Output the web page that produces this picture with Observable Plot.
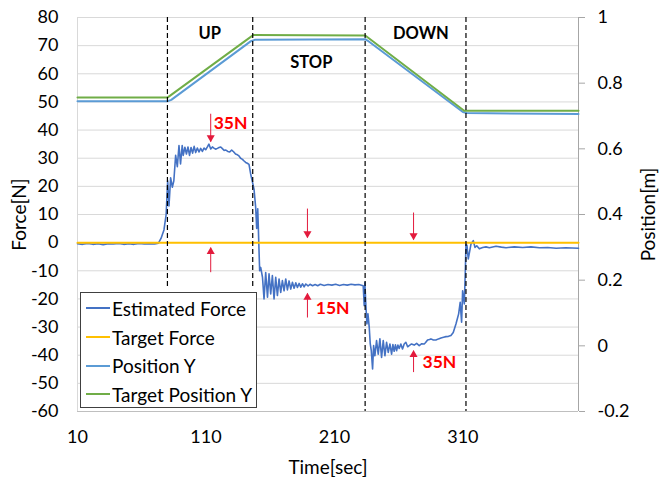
<!DOCTYPE html>
<html><head><meta charset="utf-8">
<script src="https://cdn.jsdelivr.net/npm/d3@7"></script>
<script src="https://cdn.jsdelivr.net/npm/@observablehq/plot@0.6"></script>
<style>
html,body{margin:0;padding:0;background:#fff;}
#wrap{position:relative;width:665px;height:477px;font-family:Lato,sans-serif;}
#legend{position:absolute;left:80px;top:292px;width:177px;height:116px;border:1px solid #404040;background:#fff;box-sizing:border-box;padding-top:1px;}
.row{position:relative;height:28.7px;display:flex;align-items:center;font-size:19px;color:#000;white-space:nowrap;}
.sw{display:inline-block;width:24px;height:2px;margin-left:5px;margin-right:2px;}
</style></head><body><div id="wrap"></div>
<script>
// ---- data ----
const timeTicks = [10, 110, 210, 310];
const forceTicks = [-60, -50, -40, -30, -20, -10, 0, 10, 20, 30, 40, 50, 60, 70, 80];
const positionTicks = [-0.2, 0, 0.2, 0.4, 0.6, 0.8, 1];
const seriesNames = ["Estimated Force", "Target Force", "Position Y", "Target Position Y"];
const seriesColors = ["#4472C4", "#FFC000", "#5B9BD5", "#70AD47"];

// Estimated force [time, N]
const estimatedForce = [
[10,-0.4],[14,-0.6],[18,-0.3],[22,-0.6],[26,-0.4],[30,-0.7],[34,-0.4],[38,-0.5],[42,-0.3],[46,-0.6],
[50,-0.4],[54,-0.6],[58,-0.3],[62,-0.5],[66,-0.4],[70,-0.5],[73,-0.2],[75,1.5],[77.3,4.5],[79,10],
[80.2,22],[81.2,13],[82.5,23],[83.8,19.7],[85,22],[86.4,31],[87.7,27],[89,34.5],[90.2,28],[91.5,34.5],
[92.3,31],[93.6,33.9],[94.8,31.5],[96,34],[97.2,31],[98.4,33.8],[99.6,31.8],[100.8,34.2],[102,32],[103.3,33.6],
[104.6,32.2],[105.9,33.5],[107.2,32.4],[108.5,33.6],[109.8,33],[111.1,34],[112.3,35],[113.7,33.3],[115,34],[116.2,33.6],
[117.5,33.2],[118.9,33.5],[120.2,33.8],[121.5,34],[122.8,33.4],[124,32.8],[125.5,32.9],[127,32.4],[128.5,32.2],[130,32.9],
[131.5,32.3],[133,31.5],[134.5,31.2],[135.7,30.8],[137,30],[138.4,29.6],[139.7,29],[140.9,28.5],[142.2,28.2],[143.5,27.8],
[144.8,24.4],[146.2,21.5],[147.4,19],[148.7,12.5],[149.5,5],[150.3,12],[150.8,4.9],[151.3,-2.8],[151.8,-10],[152.6,-8.8],
[154,-12.3],[155.2,-20],[156.5,-10.6],[157.9,-19.4],[159.1,-11.1],[160.4,-18.2],[161.7,-11.7],[163,-20],[164.3,-12.3],[165.6,-18.8],
[166.9,-12.9],[168.2,-17.7],[169.5,-13.5],[170.8,-17.1],[172.1,-12.9],[173.4,-16.8],[174.7,-13.6],[176,-16.5],[177.3,-14.1],[178.6,-16.2],
[179.9,-14.3],[181.2,-15.9],[182.5,-14.5],[183.8,-15.8],[185.1,-14.6],[186.4,-15.7],[187.7,-14.7],[189.5,-15.4],[191,-14.8],[193,-15.3],
[195,-14.9],[197,-15.3],[199,-14.8],[202,-15.2],[205,-14.9],[208,-15.1],[211,-14.8],[214,-15.2],[217,-14.9],[220,-15.1],
[223,-14.8],[226,-15],[229,-14.9],[232.4,-15.3],[233.2,-22.4],[233.7,-14.1],[234.5,-22.4],[235.3,-28.9],[236.1,-25.3],[237.1,-30.1],
[237.9,-36],[238.7,-38.4],[239.7,-44.9],[240.5,-36.6],[241.5,-40.2],[242.8,-34.8],[244.1,-39.6],[245.4,-34.2],[246.7,-40.8],[248,-34.8],
[249.3,-40.2],[250.6,-35.4],[251.9,-39],[253.2,-36],[254.5,-39.6],[255.5,-36.2],[256.5,-38.6],[257.5,-36.3],[258.4,-38.4],[259.4,-36.4],
[260.4,-37.6],[261.7,-36],[263,-37.8],[264.3,-36],[265.6,-35.4],[267,-37],[268.2,-36.6],[270,-36],[272.1,-36.4],[274,-35.8],
[276,-36.6],[278,-35.9],[279.9,-36],[281,-35.5],[282.5,-34.6],[284,-34.4],[285.1,-34.2],[287,-34.6],[289,-34.6],[291,-34.2],
[292.9,-33.9],[295,-33.6],[296.8,-33.4],[298.8,-33.3],[300.7,-33],[302.5,-31.9],[304.6,-28.9],[306.7,-25.3],[307.9,-21.2],[309,-28.3],
[309.8,-17.1],[311.1,-21.8],[311.9,-10],[312.4,-0.5],[313.2,-1],[314.2,-5.8],[316.3,-0.5],[318.1,0.7],[319.4,-1.7],[320.8,-1.1],
[322.8,-2.2],[325.4,-1.7],[328,-1.5],[330.6,-1.8],[335.8,-1.3],[340,-1.6],[343.6,-1.8],[350,-1.5],[356.6,-1.7],[363,-1.5],
[369.6,-1.8],[376,-1.7],[382.6,-2],[390,-1.8],[400,-2]
];
const targetForceTime = [10, 400];
const targetForceValue = [0, 0];
// Position [time, m]
const positionY = [[10,0.745],[80,0.745],[83,0.749],[145,0.928],[148,0.932],[234,0.934],[236,0.929],[310,0.712],[313,0.709],[400,0.706]];
const targetPositionY = [[10,0.756],[80,0.756],[147,0.947],[234,0.945],[311,0.716],[400,0.716]];

// annotations
const phaseNames = ["UP", "STOP", "DOWN"];
const phaseTime = [113, 192, 277.3];
const phaseForce = [74.3, 64.1, 74.2];
const boundaryTime = [80, 146.4, 233.9, 312.4];
const boundaryTop = [80, 80, 80, 80];
const boundaryBottom = [-16, -16, -60, -60];
const arrowTime = [113.7, 113.7, 189, 189, 271.6, 271.6];
const arrowBase = [45.8, -10.5, 12.1, -26.6, 10.7, -46];
const arrowTip = [35.9, -1.8, 1.8, -18, 1.1, -38.4];
const noteText = ["35N", "15N", "35N"];
const noteTime = [116, 195.5, 278.6];
const noteForce = [42.3, -23.5, -42.6];

// ---- build ----
const toForce = p => (p + 0.2) / 1.2 * 140 - 60;
const fromForce = f => (f + 60) / 140 * 1.2 - 0.2;
const ef = estimatedForce.map(([t, v]) => ({t, v}));
const tf = targetForceTime.map((t, i) => ({t, v: targetForceValue[i]}));
const py = positionY.map(([t, p]) => ({t, v: toForce(p)}));
const tpy = targetPositionY.map(([t, p]) => ({t, v: toForce(p)}));
const phases = phaseNames.map((n, i) => ({n, t: phaseTime[i], v: phaseForce[i]}));
const bounds = boundaryTime.map((t, i) => ({t, y1: boundaryTop[i], y2: boundaryBottom[i]}));
const arrows = arrowTime.map((t, i) => ({t, b: arrowBase[i], e: arrowTip[i]}));
const downA = arrows.filter(a => a.e < a.b), upA = arrows.filter(a => a.e > a.b);
const notes = noteText.map((n, i) => ({n, t: noteTime[i], v: noteForce[i]}));
const red = "#E31A3C";

const chart = Plot.plot({
  width: 665, height: 477,
  marginLeft: 77, marginRight: 87, marginTop: 17, marginBottom: 66,
  style: {fontFamily: "Lato, sans-serif", fontSize: "18px", color: "#000", background: "#fff", overflow: "visible"},
  x: {domain: [10, 400]},
  y: {domain: [-60, 80]},
  marks: [
    Plot.ruleY(forceTicks, {stroke: "#d9d9d9", strokeWidth: 1}),
    Plot.ruleX([10], {stroke: "#d9d9d9"}),
    Plot.ruleY([-60], {stroke: "#bfbfbf"}),
    Plot.ruleX([400], {stroke: "#a6a6a6"}),
    Plot.axisY({anchor: "left", ticks: forceTicks, tickSize: 0, tickPadding: 19, tickFormat: d => String(d), label: null, fontSize: 18}),
    Plot.axisY({anchor: "left", ticks: [], label: "Force[N]", labelAnchor: "center", labelArrow: "none", labelOffset: 65, fontSize: 19}),
    Plot.axisY({anchor: "right", ticks: positionTicks.map(toForce), tickSize: 6, tickPadding: 13, stroke: "#a6a6a6", fontSize: 18,
      tickFormat: f => { const v = Math.round(fromForce(f) * 10) / 10; return String(v === 0 ? 0 : v); }, label: null}),
    Plot.axisY({anchor: "right", ticks: [], label: "Position[m]", labelAnchor: "center", labelArrow: "none", labelOffset: 76, fontSize: 19}),
    Plot.axisX({ticks: timeTicks, tickSize: 0, tickPadding: 19, tickFormat: d => String(d), label: null, fontSize: 18}),
    Plot.axisX({ticks: [], label: "Time[sec]", labelAnchor: "center", labelArrow: "none", labelOffset: 62, fontSize: 19}),
    Plot.line(ef, {x: "t", y: "v", stroke: seriesColors[0], strokeWidth: 1.6}),
    Plot.line(tf, {x: "t", y: "v", stroke: seriesColors[1], strokeWidth: 2}),
    Plot.line(py, {x: "t", y: "v", stroke: seriesColors[2], strokeWidth: 2}),
    Plot.line(tpy, {x: "t", y: "v", stroke: seriesColors[3], strokeWidth: 2}),
    Plot.ruleX(bounds, {x: "t", y1: "y1", y2: "y2", stroke: "#000", strokeWidth: 1.2, strokeDasharray: "5,3"}),
    Plot.text(phases, {x: "t", y: "v", text: "n", fontWeight: "bold", fontSize: 16.5, fill: "#000"}),
    Plot.link(arrows, {x1: "t", x2: "t", y1: "b", y2: "e", stroke: red, strokeWidth: 1}),
    Plot.dot(downA, {x: "t", y: "e", symbol: "triangle", r: 3, fill: red, stroke: "none", rotate: 180, dy: -4}),
    Plot.dot(upA, {x: "t", y: "e", symbol: "triangle", r: 3, fill: red, stroke: "none", dy: 4}),
    Plot.text(notes, {x: "t", y: "v", text: "n", fill: "#ff0000", fontWeight: "bold", fontSize: 17.5, textAnchor: "start"})
  ]
});
const wrap = document.getElementById("wrap");
wrap.appendChild(chart);
const leg = document.createElement("div");
leg.id = "legend";
seriesNames.forEach((n, i) => {
  const r = document.createElement("div"); r.className = "row";
  const s = document.createElement("span"); s.className = "sw"; s.style.background = seriesColors[i];
  const t = document.createElement("span"); t.textContent = n;
  r.appendChild(s); r.appendChild(t); leg.appendChild(r);
});
wrap.appendChild(leg);
</script></body></html>
